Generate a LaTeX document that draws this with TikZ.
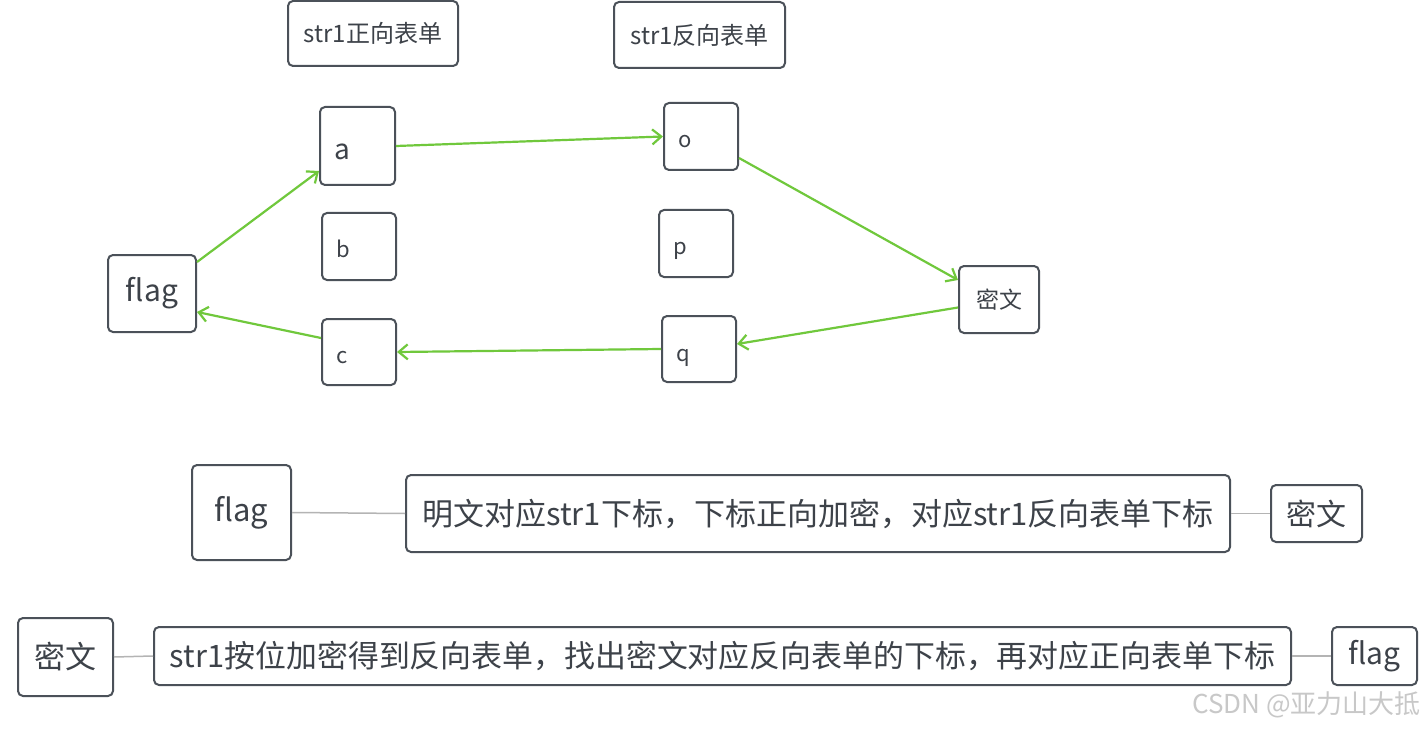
\documentclass[tikz,border=0pt]{standalone}
\usepackage{fontspec}
\setmainfont{Noto Sans CJK SC}
\usetikzlibrary{arrows.meta,calc}
\definecolor{bordercol}{HTML}{4B5159}
\definecolor{textcol}{HTML}{3D4249}
\definecolor{greencol}{RGB}{112,200,60}
\definecolor{linkcol}{HTML}{B4B4B4}
\definecolor{markcol}{HTML}{C8C8C8}
\tikzset{
  box/.style={draw=bordercol, line width=2pt, rounded corners=5pt, fill=white,
    text=textcol, inner sep=0pt, align=center},
  lbl/.style={text=textcol, inner sep=0pt, anchor=base west},
  garrow/.style={draw=greencol, line width=2.2pt, -{Straight Barb[length=9pt,width=15pt,line width=2.2pt]}},
  glink/.style={draw=linkcol, line width=1.5pt},
  fs/.style={font=\fontsize{#1}{#1}\selectfont}
}
\begin{document}
\begin{tikzpicture}[x=1pt,y=-1pt]
\useasboundingbox[fill=white] (0,0) rectangle (1427,730);

% top labels
\node[box, fs=24, minimum width=170pt, minimum height=65pt] (top1) at (373,33.5) {str1正向表单};
\node[box, fs=24, minimum width=171pt, minimum height=66pt] (top2) at (699.5,35) {str1反向表单};

% letter boxes
\node[box, minimum width=75pt, minimum height=78pt] (a) at (357.5,146) {};
\node[box, minimum width=74pt, minimum height=67pt] (b) at (359,246.5) {};
\node[box, minimum width=74pt, minimum height=66pt] (c) at (359,352) {};
\node[box, minimum width=74pt, minimum height=67pt] (o) at (701,136.5) {};
\node[box, minimum width=74pt, minimum height=67pt] (p) at (696,243.5) {};
\node[box, minimum width=74pt, minimum height=66pt] (q) at (699,349) {};
\node[lbl, fs=28] (at) at ($(a.west)+(15,14)$) {a};
\node[lbl, fs=22] (bt) at ($(b.west)+(15,11)$) {b};
\node[lbl, fs=22] (ct) at ($(c.west)+(15,11)$) {c};
\node[lbl, fs=22] (ot) at ($(o.west)+(15,11)$) {o};
\node[lbl, fs=22] (pt) at ($(p.west)+(15,11)$) {p};
\node[lbl, fs=22] (qt) at ($(q.west)+(15,12)$) {q};

\node[box, fs=30, minimum width=88pt, minimum height=77pt] (flag) at (152,293.5) {flag};
\node[box, fs=23, minimum width=80pt, minimum height=67pt] (m) at (999,299.5) {密文};

% green arrows
\draw[garrow] ($(flag.north east)+(0,8)$) -- ($(a.south west)+(0,-15)$);
\draw[garrow] (a.east) -- (o.west);
\draw[garrow] ($(o.south east)+(0,-13)$) -- ($(m.north west)+(0,15)$);
\draw[garrow] ($(m.west)+(0,8)$) -- ($(q.east)+(0,-5)$);
\draw[garrow] (q.west) -- (c.east);
\draw[garrow] ($(c.north west)+(0,20)$) -- ($(flag.south east)+(0,-21)$);

% bottom row 1
\node[box, fs=31, minimum width=99pt, minimum height=95pt] (flag2) at (241.5,512.5) {flag};
\node[box, fs=31, minimum width=824pt, minimum height=77pt] (desc1) at (818,513.5) {明文对应str1下标，下标正向加密，对应str1反向表单下标};
\node[box, fs=30, minimum width=91pt, minimum height=57pt] (m2) at (1316.5,513.5) {密文};
\draw[glink] (flag2.east) -- (desc1.west);
\draw[glink] (desc1.east) -- (m2.west);

% bottom row 2
\node[box, fs=31, minimum width=95pt, minimum height=78pt] (m3) at (65.5,657) {密文};
\node[box, fs=30.9, minimum width=1137pt, minimum height=58pt] (desc2) at (722.5,656) {str1按位加密得到反向表单，找出密文对应反向表单的下标，再对应正向表单下标};
\node[box, fs=30, minimum width=85pt, minimum height=58pt] (flag3) at (1374.5,656) {flag};
\draw[glink] (m3.east) -- (desc2.west);
\draw[glink] (desc2.east) -- (flag3.west);

% watermark
\node[anchor=east, text=markcol, fs=26, inner sep=0pt] (mark) at (1421,705) {CSDN @亚力山大抵};
\end{tikzpicture}
\end{document}
